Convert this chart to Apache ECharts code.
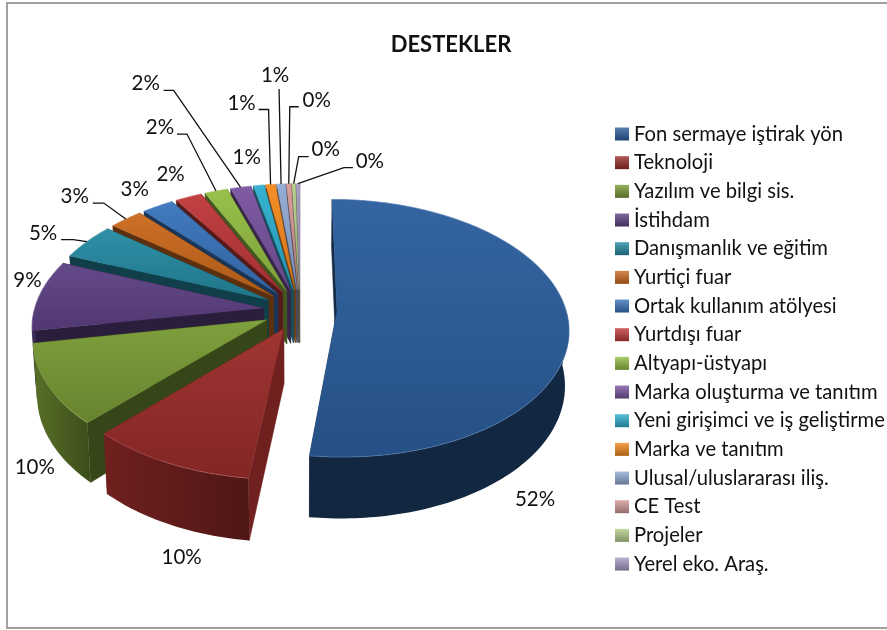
<!DOCTYPE html>
<html><head><meta charset="utf-8">
<style>html,body{margin:0;padding:0;background:#fff}#c{width:887px;height:630px}</style>
<script src="https://cdn.jsdelivr.net/npm/echarts@6/dist/echarts.min.js"></script>
</head><body><div id="c"></div>
<script>
const title = 'DESTEKLER';
const categories = ['Fon sermaye iştirak yön','Teknoloji','Yazılım ve bilgi sis.','İstihdam','Danışmanlık ve eğitim','Yurtiçi fuar','Ortak kullanım atölyesi','Yurtdışı fuar','Altyapı-üstyapı','Marka oluşturma ve tanıtım','Yeni girişimci ve iş geliştirme','Marka ve tanıtım','Ulusal/uluslararası iliş.','CE Test','Projeler','Yerel eko. Araş.'];
const values = [52.2,10.3,10.0,8.8,4.6,2.7,2.6,2.2,1.9,1.7,0.9,0.8,0.7,0.4,0.3,0.3];
const colors = ['#2c5f9e','#9b2d2b','#7a9c36','#5f4285','#268ba3','#cc6a1e','#3a75bd','#c0393b','#94be44','#7a54a0','#2fafcf','#f58a1f','#92aad4','#d49a98','#b5cf8a','#a89bc5'];
/* label offset from the slice's rim point */
const labelShift = [[-33,180],[13,94],[-13,82],[-12,-15],[-44,-8],[-51,-23],[-23,-17],[-18,-23],[-56,-64],[-95,-104],[-12,-28],[-29,-81],[-6,-109],[28,-83],[32,-34],[72,-22]];
/* leader stub: start dx, dy from text centre, elbow dx */
const leaders = {4:[18,6,30],5:[18,7,29],8:[17,7,27],9:[18,7,28],11:[17,6,27],12:[4,14,4],13:[-18,6,-27],14:[-17,7,-27],15:[-17,6,-26]};

const VX=300,VY=310,RX=229,RY=128.5,EXPL=37,PX=0.135,PY=0.132,DEPTH=54;
const total = values.reduce((a,b)=>a+b,0);
const starts=[];let acc=0;values.forEach(v=>{starts.push(acc);acc+=v;});
const FONT='Lato, "Open Sans", sans-serif';

function shade(hex,f){
  const n=parseInt(hex.slice(1),16);
  const ch=[n>>16&255,n>>8&255,n&255].map(c=>Math.round(f<=1?c*f:c+(255-c)*(f-1)));
  return 'rgb('+ch.join(',')+')';
}
function proj(X,Z,h){
  const s=1+PX*Z/RY;
  const ky=1+PY*Z/RY;
  const d=h?DEPTH*s:0;
  return [VX+X*s*(h?0.985:1), VY+Z*ky+d];
}
function grad(x0,y0,x1,y1,c0,c1){return {type:'linear',x:x0,y:y0,x2:x1,y2:y1,colorStops:[{offset:0,color:c0},{offset:1,color:c1}]};}

function renderSlice(i){
  return function(params,api){
    const v=api.value(0);
    const a0=starts[i]/total*Math.PI*2, a1=a0+v/total*Math.PI*2, mid=(a0+a1)/2;
    const ex=EXPL*Math.sin(mid), ez=-EXPL*RY/RX*Math.cos(mid);
    const rim=(t,h)=>proj(ex+RX*Math.sin(t),ez-RY*Math.cos(t),h);
    const ctr=h=>proj(ex,ez,h);
    const c=colors[i];
    const kids=[];
    const n=Math.max(2,Math.ceil((a1-a0)/0.02));
    const arc=[];for(let k=0;k<=n;k++)arc.push(a0+(a1-a0)*k/n);
    const wallFill=shade(c,i===1?0.72:0.45);
    [a0,a1].forEach(t=>{
      kids.push({type:'polygon',shape:{points:[ctr(0),rim(t,0),rim(t,1),ctr(1)]},style:{fill:wallFill,stroke:wallFill,lineWidth:0.5}});
    });
    const front=arc.filter(t=>t>=Math.PI/2&&t<=Math.PI*1.5);
    if(front.length>1){
      const pts=front.map(t=>rim(t,0)).concat(front.slice().reverse().map(t=>rim(t,1)));
      const l=i===0?[shade(c,0.4),shade(c,0.42)]:[shade(c,0.72),shade(c,0.5)];
      kids.push({type:'polygon',shape:{points:pts},style:{fill:grad(0,0,1,0,l[0],l[1])}});
    }
    const topPts=[ctr(0)].concat(arc.map(t=>rim(t,0)));
    kids.push({type:'polygon',shape:{points:topPts},style:{fill:grad(0,0,0,1,shade(c,1.04),shade(c,0.84)),stroke:shade(c,0.9),lineWidth:0.3}});
    kids.push({type:'polyline',shape:{points:arc.map(t=>rim(t,0))},style:{fill:'none',stroke:shade(c,1.25),lineWidth:1,opacity:0.55}});
    const an=rim(mid,0), sh=labelShift[i];
    const tx=an[0]+sh[0], ty=an[1]+sh[1];
    kids.push({type:'text',z2:100,style:{text:Math.round(v/total*100)+'%',x:tx,y:ty,fill:'#111',font:'20.5px '+FONT,align:'center',verticalAlign:'middle'}});
    const L=leaders[i];
    if(L){
      kids.push({type:'polyline',z2:100,shape:{points:[[tx+L[0],ty+L[1]],[tx+L[2],ty+L[1]],an]},style:{fill:'none',stroke:'#111',lineWidth:1.3}});
    }
    return {type:'group',children:kids};
  };
}

const series=categories.map((name,i)=>({
  name,type:'custom',coordinateSystem:'none',z:20-i,silent:true,animation:false,
  data:[values[i]],clip:false,
  itemStyle:{color:grad(0,0,0,1,shade(colors[i],1.2),shade(colors[i],0.7))},
  renderItem:renderSlice(i)
}));

const chart=echarts.init(document.getElementById('c'),null,{renderer:'canvas'});
chart.setOption({
  animation:false,
  backgroundColor:'#fff',
  title:{text:title,left:446,top:29,textAlign:'center',textStyle:{fontFamily:FONT,fontWeight:'bold',fontSize:22,color:'#111'}},
  legend:{orient:'vertical',left:615,top:122,padding:0,itemWidth:14,itemHeight:13,itemGap:4.67,selectedMode:false,
    data:categories,icon:'rect',
    textStyle:{fontFamily:FONT,fontSize:20.2,color:'#111',lineHeight:24}},
  graphic:[{type:'rect',z:-1,shape:{x:7,y:3,width:890,height:625},style:{fill:'#fff',stroke:'#a0a0a0',lineWidth:2}}],
  series
});
</script></body></html>
